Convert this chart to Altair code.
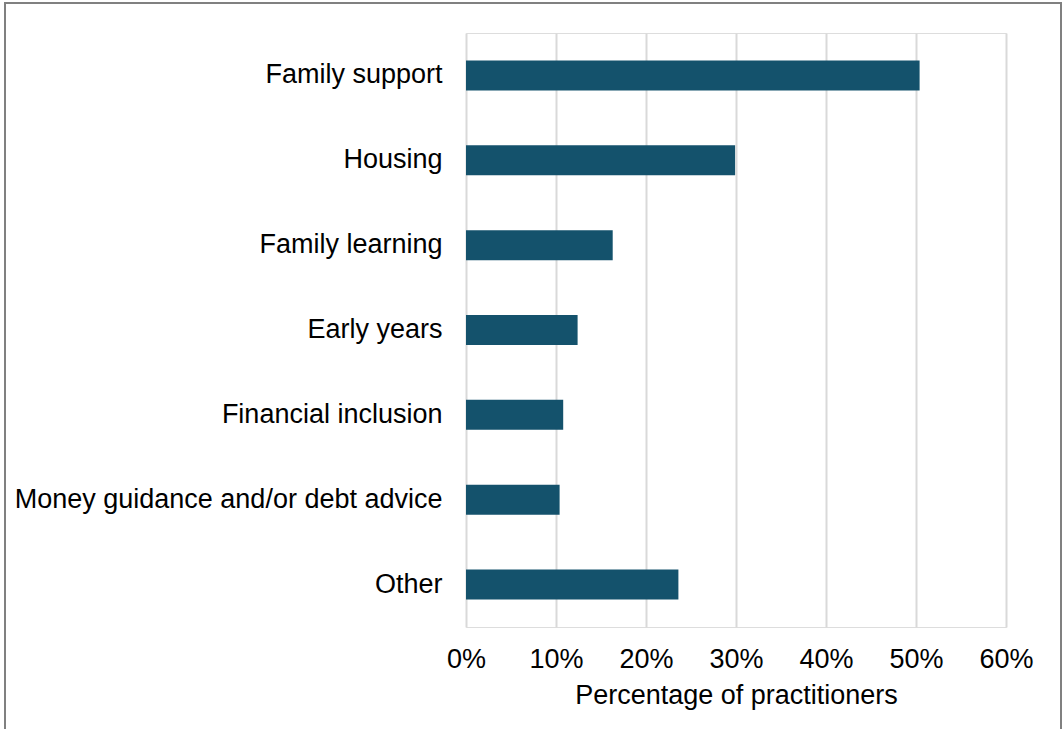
import altair as alt
import pandas as pd

categories = [
    "Family support",
    "Housing",
    "Family learning",
    "Early years",
    "Financial inclusion",
    "Money guidance and/or debt advice",
    "Other",
]
values = [0.504, 0.299, 0.163, 0.124, 0.108, 0.104, 0.236]

df = pd.DataFrame({"category": categories, "value": values})

FONT = "Liberation Sans"
FS = 27

bars = alt.Chart(df).mark_bar(color="#14526C", size=30).encode(
    x=alt.X(
        "value:Q",
        scale=alt.Scale(domain=[0, 0.6], nice=False),
        axis=alt.Axis(
            format=".0%",
            values=[0, 0.1, 0.2, 0.3, 0.4, 0.5, 0.6],
            title="Percentage of practitioners",
            grid=True,
            gridColor="#D9D9D9",
            gridWidth=2,
            domain=False,
            ticks=False,
            labelFlush=False,
            labelOverlap=False,
            labelFont=FONT,
            labelFontSize=FS,
            labelColor="#000000",
            labelPadding=19,
            titleFont=FONT,
            titleFontSize=FS,
            titleFontWeight="normal",
            titleColor="#000000",
            titlePadding=10,
        ),
    ),
    y=alt.Y(
        "category:N",
        sort=categories,
        scale=alt.Scale(paddingInner=0, paddingOuter=0),
        axis=alt.Axis(
            title=None,
            domain=False,
            ticks=False,
            grid=False,
            labelFont=FONT,
            labelFontSize=FS,
            labelColor="#000000",
            labelPadding=24,
            labelLimit=600,
        ),
    ),
)

border = alt.Chart(df).mark_rect(
    filled=False, stroke="#808080", strokeWidth=2
).encode(
    x=alt.value(-461),
    x2=alt.value(595),
    y=alt.value(-30),
    y2=alt.value(720),
)

chart = (
    alt.layer(bars, border)
    .properties(
        width=540,
        height=594,
        autosize=alt.AutoSizeParams(type="none"),
        padding={"left": 466, "top": 33, "right": 56, "bottom": 102},
    )
    .configure_view(stroke=None)
    .configure(background="white")
)

chart.save("out.html", embed_options={"renderer": "svg", "actions": False})
